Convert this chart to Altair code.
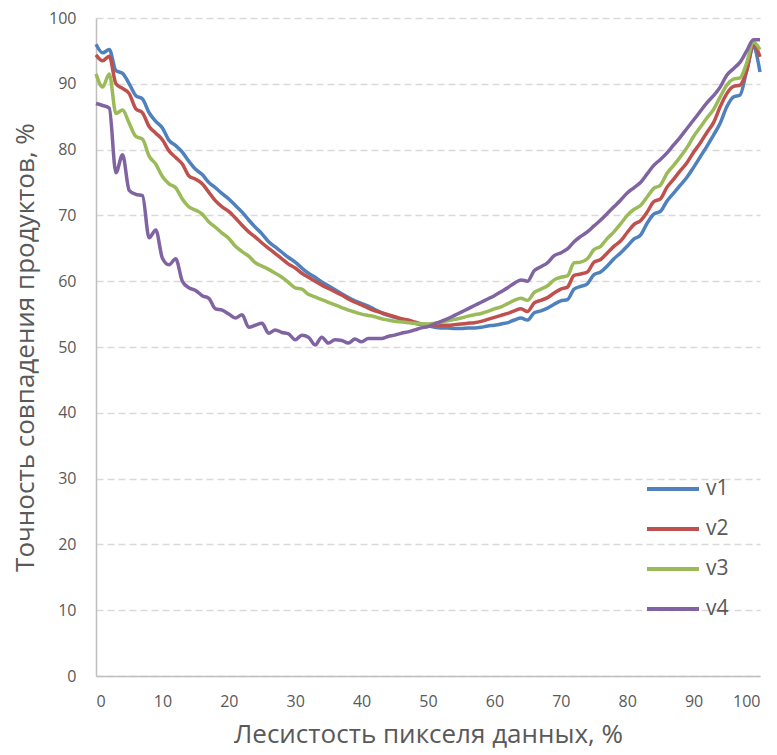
import altair as alt
import pandas as pd

x_vals = list(range(0, 101))

v1 = [96.0, 94.7, 95.2, 92.0, 91.6, 90.0, 88.2, 87.7, 85.6, 84.3,
      83.3, 81.4, 80.6, 79.6, 78.2, 77.0, 76.2, 75.0, 74.2, 73.3,
      72.5, 71.5, 70.5, 69.3, 68.2, 67.2, 66.0, 65.2, 64.4, 63.6,
      62.9, 62.0, 61.2, 60.6, 59.9, 59.3, 58.7, 58.1, 57.5, 57.0,
      56.6, 56.2, 55.7, 55.2, 54.8, 54.5, 54.2, 53.9, 53.6, 53.4,
      53.2, 53.0, 52.9, 52.9, 52.8, 52.8, 52.9, 52.9, 53.0, 53.2,
      53.3, 53.5, 53.7, 54.1, 54.4, 54.1, 55.2, 55.5, 55.9, 56.5,
      57.0, 57.2, 58.8, 59.2, 59.6, 61.0, 61.4, 62.3, 63.4, 64.3,
      65.3, 66.4, 67.0, 68.8, 70.2, 70.6, 72.2, 73.4, 74.6, 75.8,
      77.3, 78.9, 80.5, 82.2, 84.0, 86.5, 88.0, 88.3, 92.0, 95.5,
      91.8]

v2 = [94.4, 93.5, 94.2, 90.0, 89.3, 88.5, 86.2, 85.6, 83.5, 82.5,
      81.5, 79.8, 78.8, 77.8, 76.0, 75.5, 74.8, 73.5, 72.2, 71.3,
      70.6, 69.6, 68.5, 67.5, 66.7, 65.8, 65.0, 64.2, 63.4, 62.6,
      62.0, 61.2, 60.6, 60.0, 59.4, 58.9, 58.4, 57.9, 57.3, 56.8,
      56.4, 55.9, 55.5, 55.2, 54.9, 54.6, 54.3, 54.1, 53.8, 53.5,
      53.4, 53.3, 53.3, 53.3, 53.4, 53.5, 53.6, 53.7, 53.9, 54.2,
      54.5, 54.8, 55.1, 55.5, 55.8, 55.4, 56.7, 57.1, 57.5, 58.2,
      58.8, 59.1, 60.9, 61.1, 61.4, 62.9, 63.3, 64.3, 65.3, 66.1,
      67.4, 68.6, 69.2, 70.5, 72.1, 72.5, 74.3, 75.5, 76.8, 78.0,
      79.6, 81.0, 82.6, 84.1, 86.5, 88.5, 89.6, 89.8, 92.0, 96.0,
      94.1]

v3 = [91.5, 89.5, 91.5, 85.5, 86.0, 84.0, 82.0, 81.6, 79.0, 77.8,
      75.9, 74.8, 74.2, 72.5, 71.3, 70.8, 70.2, 69.0, 68.2, 67.3,
      66.5, 65.3, 64.5, 63.8, 62.8, 62.3, 61.8, 61.2, 60.6, 59.8,
      59.0, 58.8, 58.0, 57.6, 57.2, 56.8, 56.4, 56.0, 55.6, 55.3,
      55.0, 54.8, 54.6, 54.3, 54.1, 53.9, 53.8, 53.7, 53.6, 53.5,
      53.5, 53.6, 53.8, 54.0, 54.2, 54.4, 54.7, 54.9, 55.1, 55.4,
      55.8, 56.1, 56.6, 57.1, 57.4, 57.1, 58.3, 58.8, 59.3, 60.2,
      60.6, 60.8, 62.8, 62.9, 63.4, 64.8, 65.3, 66.5, 67.5, 68.7,
      70.0, 70.9, 71.5, 72.8, 74.1, 74.6, 76.4, 77.6, 78.9, 80.3,
      82.0, 83.4, 84.8, 86.1, 88.0, 89.8, 90.7, 90.9, 93.2, 96.3,
      95.2]

v4 = [87.0, 86.7, 86.3, 76.5, 79.2, 73.8, 73.2, 73.0, 66.6, 67.8,
      63.5, 62.5, 63.4, 60.0, 59.0, 58.6, 57.8, 57.4, 55.8, 55.6,
      55.0, 54.4, 54.9, 53.0, 53.3, 53.6, 52.1, 52.6, 52.2, 52.0,
      51.1, 51.8, 51.5, 50.3, 51.5, 50.6, 51.1, 51.0, 50.6, 51.2,
      50.8, 51.3, 51.3, 51.3, 51.6, 51.8, 52.1, 52.3, 52.6, 52.9,
      53.1, 53.5, 53.9, 54.3, 54.8, 55.3, 55.8, 56.3, 56.8, 57.3,
      57.8, 58.4, 59.0, 59.7, 60.2, 60.0, 61.6, 62.2, 62.8, 63.9,
      64.3, 64.9, 66.0, 66.8, 67.5, 68.4, 69.3, 70.3, 71.3, 72.3,
      73.4, 74.2, 75.0, 76.3, 77.6, 78.5, 79.5, 80.7, 81.9, 83.2,
      84.5, 85.8, 87.1, 88.2, 89.5, 91.3, 92.3, 93.3, 95.0, 96.7,
      96.7]

series_names = ["v1", "v2", "v3", "v4"]
series_colors = ["#4F81BD", "#C0504D", "#9BBB59", "#8064A2"]
x_ticks = list(range(0, 101, 10))
y_ticks = list(range(0, 101, 10))

rows = []
for name, vals in zip(series_names, [v1, v2, v3, v4]):
    for xv, yv in zip(x_vals, vals):
        rows.append({"x": xv, "y": yv, "series": name})
df = pd.DataFrame(rows)

FONT = "Open Sans"
GRAY = "#595959"

chart = alt.Chart(df).mark_line(strokeWidth=3.5, interpolate="monotone").encode(
    x=alt.X("x:Q",
            scale=alt.Scale(domain=[0, 100], nice=False, zero=False),
            axis=alt.Axis(values=x_ticks, title="Лесистость пикселя данных, %",
                          grid=False, ticks=False, labelPadding=17,
                          titlePadding=12, domainColor="#bfbfbf", domainWidth=1.5,
                          labelFontSize=16, titleFontSize=26)),
    y=alt.Y("y:Q",
            scale=alt.Scale(domain=[0, 100], nice=False),
            axis=alt.Axis(values=y_ticks, title="Точность совпадения  продуктов, %",
                          grid=True, gridDash=[7, 4], gridColor="#d9d9d9",
                          gridWidth=1.5, ticks=False, labelPadding=20,
                          titlePadding=10, domainColor="#bfbfbf", domainWidth=1.5,
                          labelFontSize=16, titleFontSize=26)),
    color=alt.Color("series:N",
                    scale=alt.Scale(domain=series_names, range=series_colors),
                    legend=alt.Legend(title=None, orient="none", legendX=549,
                                      legendY=443, symbolType="stroke",
                                      symbolSize=2704, symbolStrokeWidth=4,
                                      labelFontSize=21, labelColor=GRAY,
                                      labelFont=FONT, rowPadding=2,
                                      labelOffset=5)),
).properties(
    width=664, height=658,
    autosize=alt.AutoSizeParams(type="none"),
    padding={"left": 96, "top": 18, "right": 17, "bottom": 79},
).configure_view(stroke=None).configure_axis(
    labelFont=FONT, titleFont=FONT, labelColor=GRAY, titleColor=GRAY,
    titleFontWeight="normal",
)

chart.save("out.html", embed_options={"renderer": "svg", "actions": False})
